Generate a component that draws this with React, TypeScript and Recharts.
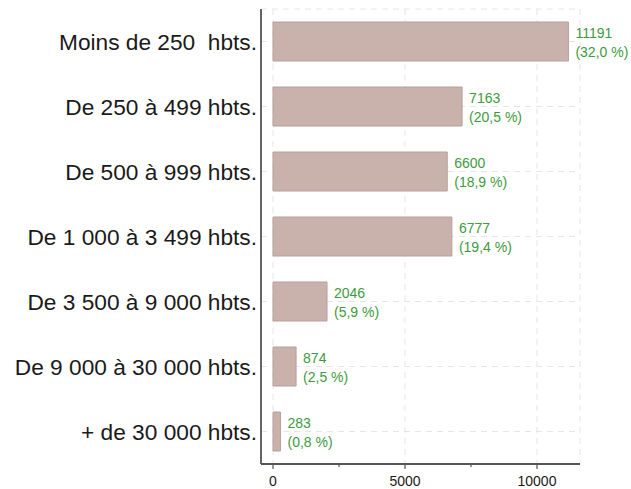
import { Bar, BarChart, CartesianGrid, LabelList, XAxis, YAxis } from "recharts";

const categories = [
  "Moins de 250  hbts.",
  "De 250 à 499 hbts.",
  "De 500 à 999 hbts.",
  "De 1 000 à 3 499 hbts.",
  "De 3 500 à 9 000 hbts.",
  "De 9 000 à 30 000 hbts.",
  "+ de 30 000 hbts.",
];
const counts = [11191, 7163, 6600, 6777, 2046, 874, 283];
const shares = [32.0, 20.5, 18.9, 19.4, 5.9, 2.5, 0.8];
const majorTicks = [0, 5000, 10000];
const allTicks = [0, 2500, 5000, 7500, 10000];
const xDomain = [-455, 11629];

const FONT = "'Liberation Sans', Arial, sans-serif";

const data = categories.map((name, i) => ({
  name,
  count: counts[i],
  label: `${counts[i]}|(${shares[i].toFixed(1).replace(".", ",")} %)`,
}));

const CategoryTick = (props: any) => {
  const { x, y, payload } = props;
  return (
    <text
      x={x}
      y={y}
      dy="0.36em"
      textAnchor="end"
      fontSize={22.7}
      fontFamily={FONT}
      fill="#1a1a1a"
      style={{ whiteSpace: "pre" }}
    >
      {payload.value}
    </text>
  );
};

const ValueTick = (props: any) => {
  const { x, y, payload } = props;
  const major = majorTicks.includes(payload.value);
  return (
    <g>
      <line x1={x} x2={x} y1={y} y2={y + (major ? 5 : 3)} stroke="#555" strokeWidth={1.2} />
      {major && (
        <text x={x} y={y + 12} dy="0.71em" textAnchor="middle" fontSize={14} fontFamily={FONT} fill="#1a1a1a">
          {payload.value}
        </text>
      )}
    </g>
  );
};

const BarLabel = (props: any) => {
  const { x, y, width, height, value } = props;
  const [top, bottom] = String(value).split("|");
  const tx = x + width + 7;
  const cy = y + height / 2;
  return (
    <g fontFamily={FONT} fontSize={14} fill="#3d9b3d">
      <text x={tx} y={cy - 9} dy="0.36em">{top}</text>
      <text x={tx} y={cy + 10} dy="0.36em">{bottom}</text>
    </g>
  );
};

export default function App() {
  return (
    <div style={{ position: "absolute", left: 0, top: 0, background: "#fff" }}>
      <BarChart
        width={631}
        height={489}
        data={data}
        layout="vertical"
        margin={{ top: 9, right: 51, left: 0, bottom: 0 }}
        barSize={39}
      >
        <CartesianGrid stroke="#e6e6e6" strokeDasharray="6 5" vertical={false} />
        <CartesianGrid stroke="#e6e6e6" strokeDasharray="6 5" horizontal={false} xAxisId="grid" />
        <XAxis
          xAxisId="grid"
          type="number"
          domain={xDomain}
          allowDataOverflow
          ticks={majorTicks}
          interval={0}
          hide
        />
        <XAxis
          type="number"
          domain={xDomain}
          allowDataOverflow
          ticks={allTicks}
          interval={0}
          tick={ValueTick}
          tickLine={false}
          tickSize={0}
          tickMargin={0}
          height={25}
          axisLine={{ stroke: "#555", strokeWidth: 1.8 }}
        />
        <YAxis
          type="category"
          dataKey="name"
          width={261}
          tick={CategoryTick}
          tickLine={false}
          tickSize={0}
          tickMargin={4}
          interval={0}
          axisLine={{ stroke: "#555", strokeWidth: 1.8 }}
        />
        <Bar dataKey="count" fill="#c9b1ac" stroke="#b8a09b" strokeWidth={1} isAnimationActive={false}>
          <LabelList dataKey="label" content={BarLabel} />
        </Bar>
      </BarChart>
    </div>
  );
}
